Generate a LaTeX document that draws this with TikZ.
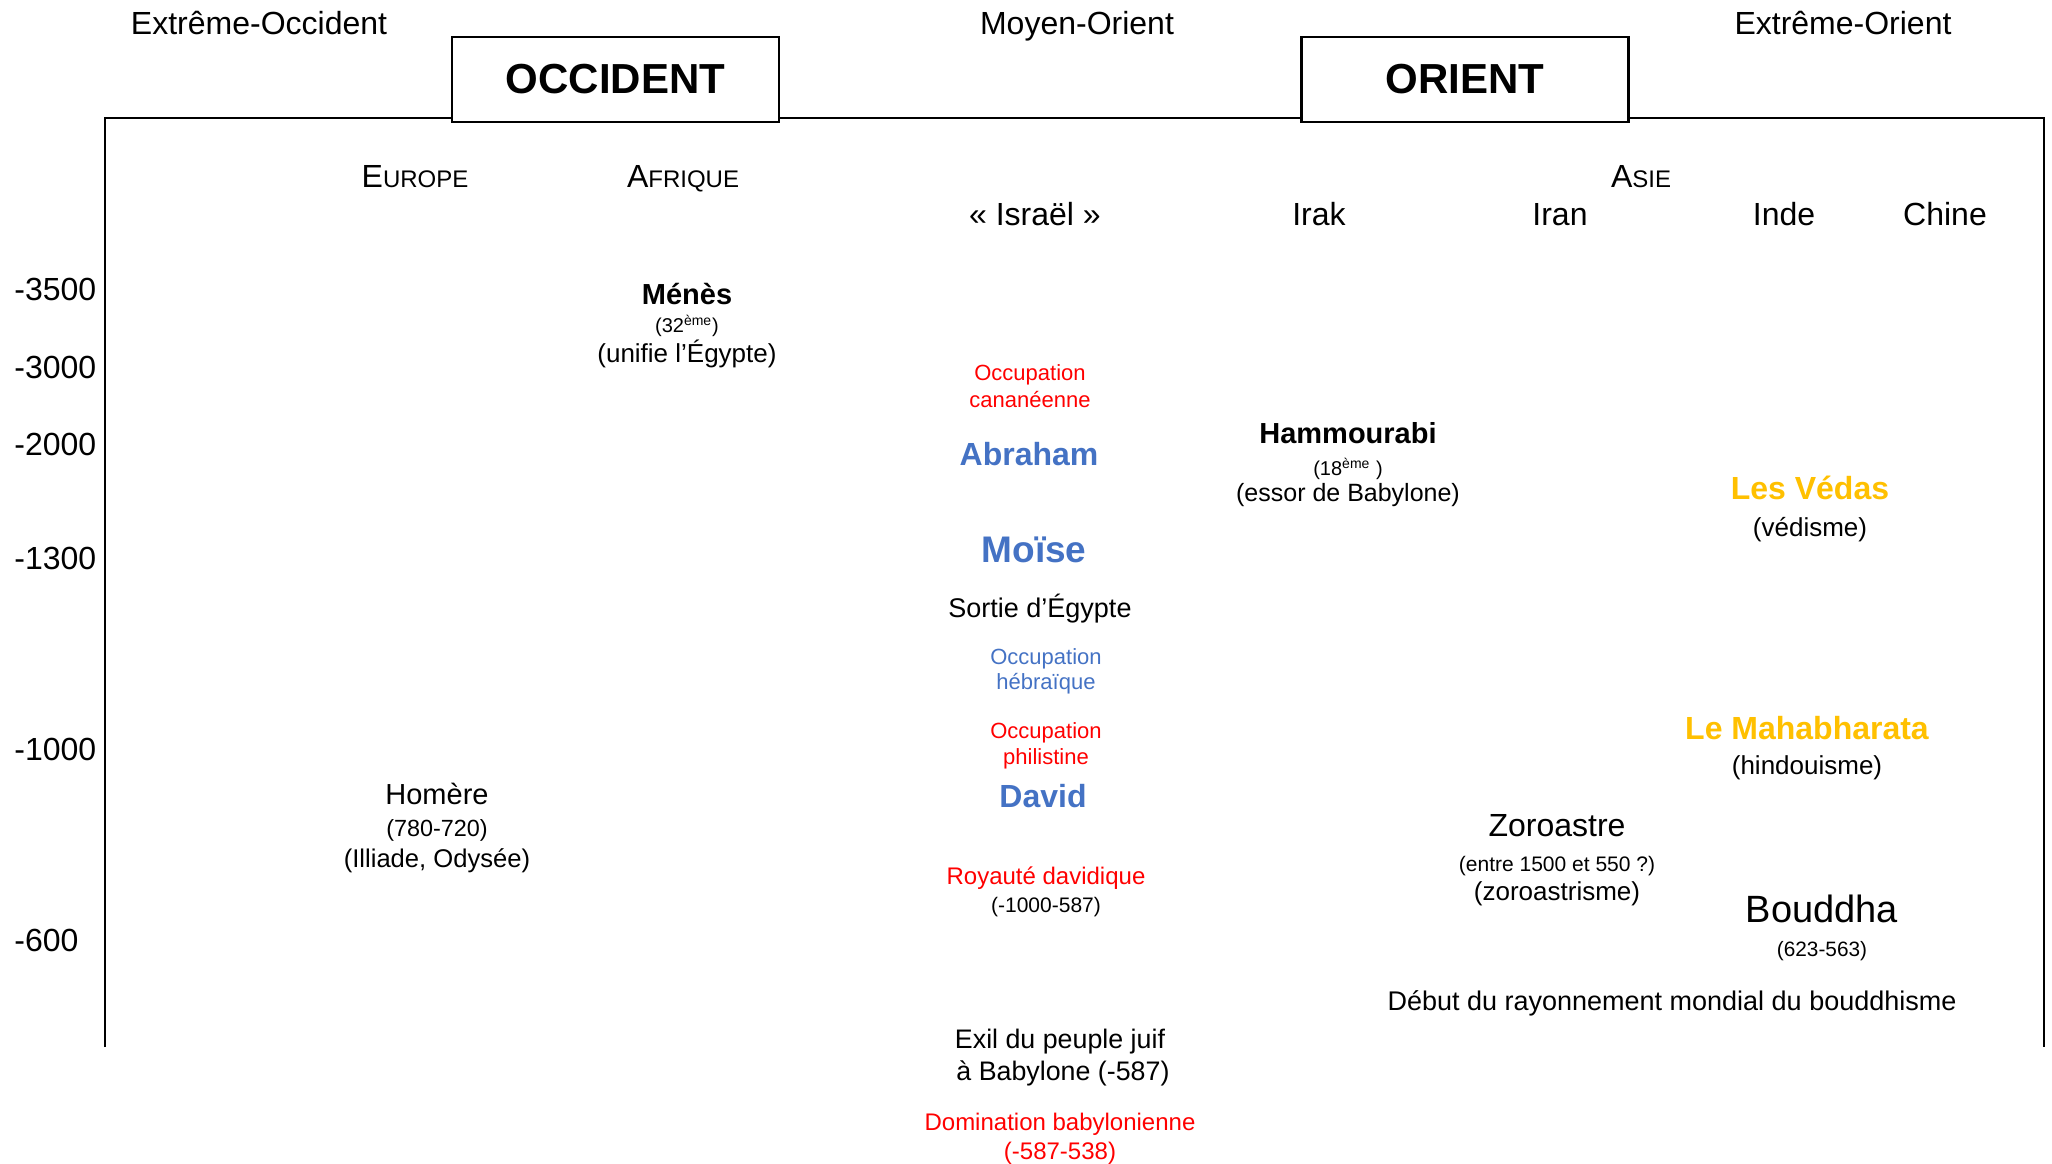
\documentclass[tikz,border=0pt]{standalone}
\usepackage{fontspec}
\setmainfont{Liberation Sans}
\definecolor{myblue}{HTML}{4472C4}
\definecolor{myyellow}{HTML}{FFC000}
\definecolor{myred}{HTML}{FF0000}
\newcommand\myfs[1]{\fontsize{#1}{#1}\selectfont}
\begin{document}
\begin{tikzpicture}[x=0.5pt,y=-0.5pt,
  t/.style={anchor=mid, inner sep=0pt},
  reg/.style={t, font=\myfs{16}},
  yr/.style={anchor=mid west, inner sep=0pt, font=\myfs{16}},
  frame/.style={line width=1.4pt},
  bigbox/.style={draw, fill=white, line width=1.4pt, minimum width=163.5pt, minimum height=42.5pt, inner sep=0pt, font=\myfs{21}\bfseries},
  redtxt/.style={t, text=myred, font=\myfs{11}},
  bluetxt/.style={t, text=myblue, font=\myfs{11}},
  bluename/.style={t, text=myblue, font=\myfs{16}\bfseries},
  yelname/.style={t, text=myyellow, font=\myfs{16}\bfseries},
  blackname/.style={t, font=\myfs{14.5}\bfseries},
  paren/.style={t, font=\myfs{13}},
  small/.style={t, font=\myfs{10.5}}]
\useasboundingbox (0,0) rectangle (2052,1163);

% frame
\coordinate (tl) at (105,118);
\coordinate (tr) at (2044,118);
\coordinate (bl) at (105,1047);
\coordinate (br) at (2044,1047);
\draw[frame] (bl) -- (tl) -- (tr) -- (br);

\node[bigbox] (occ) at (615.5,79.5) {OCCIDENT};
\node[bigbox] (ori) at (1465,79.5) {ORIENT};

\begin{scope}[yshift=-2.7pt]
% top
\node[reg] (eo) at (259,24) {Extrême-Occident};
\node[reg] (mo) at (1077,24) {Moyen-Orient};
\node[reg] (exo) at (1843,24) {Extrême-Orient};

% regions
\node[reg] (eur) at (415,177) {E{\myfs{12}UROPE}};
\node[reg] (afr) at (683,177) {A{\myfs{12}FRIQUE}};
\node[reg] (asie) at (1641,177) {A{\myfs{12}SIE}};

% countries
\node[reg] (isr) at (1035,215) {«~Israël~»};
\node[reg] (irak) at (1319,215) {Irak};
\node[reg] (iran) at (1560,215) {Iran};
\node[reg] (inde) at (1784,215) {Inde};
\node[reg] (chine) at (1945,215) {Chine};

% years
\node[yr] (y1) at (14,290) {-3500};
\node[yr] (y2) at (14,368) {-3000};
\node[yr] (y3) at (14,445) {-2000};
\node[yr] (y4) at (14,559) {-1300};
\node[yr] (y5) at (14,750) {-1000};
\node[yr] (y6) at (14,941) {-600};

% Afrique
\node[blackname] (menes) at (687,294) {Ménès};
\node[small, font=\myfs{10}] (menesd) at (687,322) {(32\textsuperscript{ème})};
\node[paren] (menesr) at (687,352) {(unifie l’Égypte)};

% Israel column
\node[redtxt] (cana1) at (1030,370) {Occupation};
\node[redtxt] (cana2) at (1030,397) {cananéenne};
\node[bluename] (abr) at (1029,455) {Abraham};
\node[bluename, font=\myfs{18.5}\bfseries] (moise) at (1034,552) {Moïse};
\node[t, font=\myfs{13.5}] (sortie) at (1040,607) {Sortie d’Égypte};
\node[bluetxt] (heb1) at (1046,654) {Occupation};
\node[bluetxt] (heb2) at (1046,679) {hébraïque};
\node[redtxt] (phi1) at (1046,728) {Occupation};
\node[redtxt] (phi2) at (1046,754) {philistine};
\node[bluename] (david) at (1043,797) {David};
\node[redtxt, font=\myfs{12}] (roy) at (1046,874) {Royauté davidique};
\node[small] (royd) at (1046,902) {(-1000-587)};
\node[t, font=\myfs{13.4}] (exil1) at (1060,1038) {Exil du peuple juif};
\node[t, font=\myfs{13.4}] (exil2) at (1063,1070) {à Babylone (-587)};
\node[redtxt, font=\myfs{12}] (dom1) at (1060,1120) {Domination babylonienne};
\node[redtxt, font=\myfs{12}] (dom2) at (1060,1149) {(-587-538)};

% Irak
\node[blackname] (hamm) at (1348,433) {Hammourabi};
\node[small, font=\myfs{10}] (hammd) at (1348,465) {(18\textsuperscript{ème} )};
\node[paren, font=\myfs{12.5}] (hammr) at (1348,491) {(essor de Babylone)};

% Inde
\node[yelname] (vedas) at (1810,489) {Les Védas};
\node[paren] (vedr) at (1810,526) {(védisme)};
\node[yelname] (maha) at (1807,729) {Le Mahabharata};
\node[paren] (mahar) at (1807,764) {(hindouisme)};

% Europe
\node[t, font=\myfs{14.5}] (hom) at (437,794) {Homère};
\node[t, font=\myfs{11.7}] (homd) at (437,826) {(780-720)};
\node[paren, font=\myfs{12.8}] (homr) at (437,857) {(Illiade, Odysée)};

% Iran
\node[reg] (zor) at (1557,826) {Zoroastre};
\node[small] (zord) at (1557,861) {(entre 1500 et 550 ?)};
\node[paren] (zorr) at (1557,890) {(zoroastrisme)};

% Bouddha
\node[t, font=\myfs{19}] (bou) at (1822,912) {Bouddha};
\node[small, font=\myfs{10.4}] (boud) at (1822,946) {(623-563)};
\node[t, font=\myfs{13.5}] (debut) at (1672,1000) {Début du rayonnement mondial du bouddhisme};
\end{scope}
\end{tikzpicture}
\end{document}
